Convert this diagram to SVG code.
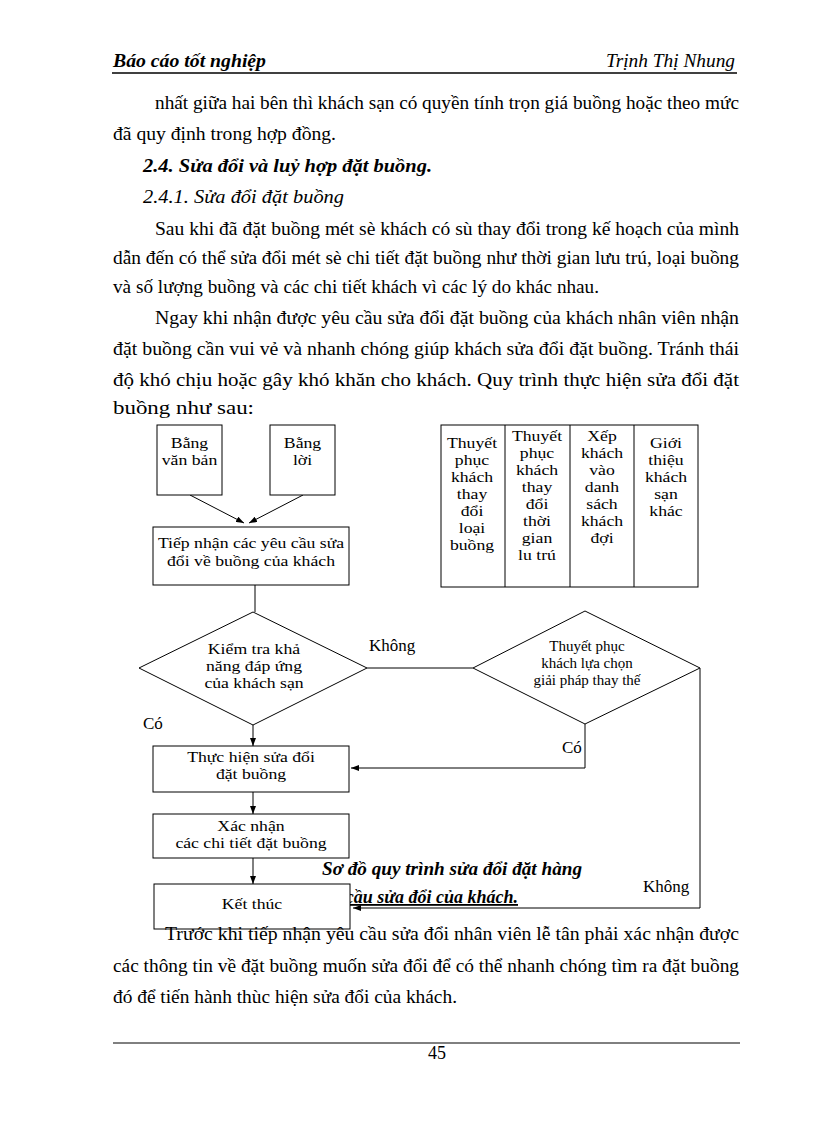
<svg xmlns="http://www.w3.org/2000/svg" width="816" height="1123" viewBox="0 0 816 1123">
<defs>
<style>
.t{font-family:"Liberation Serif","Times New Roman",serif;font-size:18px;fill:#000}
.bi{font-weight:bold;font-style:italic}
.it{font-style:italic}
.f{font-family:"Liberation Serif","Times New Roman",serif;font-size:15px;fill:#000;text-anchor:middle}
.lb{font-family:"Liberation Serif","Times New Roman",serif;font-size:17px;fill:#000}
.box{fill:#fff;stroke:#000;stroke-width:1}
.ln{fill:none;stroke:#000;stroke-width:1}
</style>
<marker id="ah" markerWidth="8" markerHeight="6" refX="8" refY="3" orient="auto" markerUnits="userSpaceOnUse">
<path d="M0,0 L8,3 L0,6 z" fill="#000"/>
</marker>
</defs>
<rect width="816" height="1123" fill="#fff"/>

<!-- header -->
<text class="t bi" x="113" y="67" textLength="153" lengthAdjust="spacingAndGlyphs">Báo cáo tốt nghiệp</text>
<text class="t it" x="606" y="67" textLength="129" lengthAdjust="spacingAndGlyphs">Trịnh Thị Nhung</text>
<line x1="112" y1="73" x2="737" y2="73" stroke="#000" stroke-width="1.5"/>

<!-- body text -->
<text class="t" x="155" y="109" textLength="584" lengthAdjust="spacingAndGlyphs">nhất giữa hai bên thì khách sạn có quyền tính trọn giá buồng hoặc theo mức</text>
<text class="t" x="113" y="140" textLength="223" lengthAdjust="spacingAndGlyphs">đã quy định trong hợp đồng.</text>
<text class="t bi" x="143" y="172" textLength="289" lengthAdjust="spacingAndGlyphs">2.4. Sửa đổi và luỷ hợp đặt buồng.</text>
<text class="t it" x="143" y="203" textLength="201" lengthAdjust="spacingAndGlyphs">2.4.1. Sửa đổi đặt buồng</text>
<text class="t" x="155" y="235" textLength="584" lengthAdjust="spacingAndGlyphs">Sau khi  đã đặt buồng mét  sè khách có sù thay đổi trong kế hoạch của mình</text>
<text class="t" x="113" y="264" textLength="626" lengthAdjust="spacingAndGlyphs">dẫn đến có thể sửa đổi mét sè chi tiết đặt buồng như thời gian lưu trú, loại buồng</text>
<text class="t" x="113" y="293" textLength="486" lengthAdjust="spacingAndGlyphs">và số lượng buồng và các chi tiết  khách vì các lý  do khác nhau.</text>
<text class="t" x="155" y="324" textLength="584" lengthAdjust="spacingAndGlyphs">Ngay khi nhận được yêu cầu sửa đổi đặt buồng của khách nhân viên nhận</text>
<text class="t" x="113" y="355" textLength="626" lengthAdjust="spacingAndGlyphs">đặt buồng cần vui vẻ và nhanh chóng giúp khách sửa đổi đặt buồng. Tránh thái</text>
<text class="t" x="113" y="386" textLength="626" lengthAdjust="spacingAndGlyphs">độ khó chịu hoặc gây khó khăn cho khách. Quy trình thực hiện sửa đổi đặt</text>
<text class="t" x="113" y="414" textLength="141" lengthAdjust="spacingAndGlyphs">buồng như sau:</text>

<!-- caption (partly covered by end box) -->
<text class="t bi" x="322" y="875" textLength="260" lengthAdjust="spacingAndGlyphs">Sơ đồ quy trình sửa đổi đặt hàng</text>
<text class="t bi" x="518" y="903" text-anchor="end" text-decoration="underline">cầu sửa đổi của khách.</text>

<!-- connectors -->
<g id="connectors">
<line class="ln" x1="190" y1="495" x2="244" y2="523" marker-end="url(#ah)"/>
<line class="ln" x1="303" y1="495" x2="249" y2="523" marker-end="url(#ah)"/>
<line class="ln" x1="255" y1="585" x2="255" y2="612"/>
<line class="ln" x1="367" y1="668" x2="473" y2="668"/>
<line class="ln" x1="253" y1="725" x2="253" y2="746" marker-end="url(#ah)"/>
<polyline class="ln" points="585,724 585,768 351,768" marker-end="url(#ah)"/>
<polyline class="ln" points="700,668 700,908 353,908" marker-end="url(#ah)"/>
<line class="ln" x1="253" y1="792" x2="253" y2="814" marker-end="url(#ah)"/>
<line class="ln" x1="253" y1="858" x2="253" y2="884" marker-end="url(#ah)"/>
<text class="lb" x="369" y="651">Không</text>
<text class="lb" x="143" y="729">Có</text>
<text class="lb" x="562" y="753">Có</text>
<text class="lb" x="643" y="892">Không</text>
</g>

<!-- nodes -->
<g id="n-vanban">
<rect class="box" x="157" y="425" width="65" height="70"/>
<g transform="translate(189.5 0) scale(1.18 1)">
<text class="f" x="0" y="448">Bằng</text>
<text class="f" x="0" y="465">văn bản</text>
</g>
</g>
<g id="n-loi">
<rect class="box" x="270" y="425" width="65" height="70"/>
<g transform="translate(302.5 0) scale(1.18 1)">
<text class="f" x="0" y="448">Bằng</text>
<text class="f" x="0" y="465">lời</text>
</g>
</g>
<g id="n-tiepnhan">
<rect class="box" x="153" y="527" width="196" height="58"/>
<g transform="translate(251 0) scale(1.18 1)">
<text class="f" x="0" y="548">Tiếp nhận các yêu cầu sửa</text>
<text class="f" x="0" y="566">đổi về buồng của khách</text>
</g>
</g>
<g id="n-kiemtra">
<polygon class="box" points="253,612 367,668 253,725 139,668"/>
<g transform="translate(254 0) scale(1.18 1)">
<text class="f" x="0" y="654">Kiểm tra khả</text>
<text class="f" x="0" y="671">năng đáp ứng</text>
<text class="f" x="0" y="688">của khách sạn</text>
</g>
</g>
<g id="n-thuyetphuc">
<polygon class="box" points="585,611 700,668 585,724 473,668"/>
<text class="f" x="587" y="651">Thuyết phục</text>
<text class="f" x="587" y="668">khách lựa chọn</text>
<text class="f" x="587" y="685">giải pháp thay thế</text>
</g>
<g id="n-thuchien">
<rect class="box" x="153" y="746" width="196" height="46"/>
<g transform="translate(251 0) scale(1.18 1)">
<text class="f" x="0" y="762">Thực hiện sửa đổi</text>
<text class="f" x="0" y="779">đặt buồng</text>
</g>
</g>
<g id="n-xacnhan">
<rect class="box" x="153" y="814" width="196" height="44"/>
<g transform="translate(251 0) scale(1.18 1)">
<text class="f" x="0" y="831">Xác nhận</text>
<text class="f" x="0" y="848">các chi tiết đặt buồng</text>
</g>
</g>
<g id="n-ketthuc">
<rect class="box" x="154" y="884" width="196" height="45"/>
<g transform="translate(252 0) scale(1.18 1)">
<text class="f" x="0" y="909" font-size="16">Kết thúc</text>
</g>
</g>

<!-- options table -->
<g id="n-options">
<rect class="box" x="441" y="425" width="257" height="162"/>
<line class="ln" x1="505" y1="425" x2="505" y2="587"/>
<line class="ln" x1="570" y1="425" x2="570" y2="587"/>
<line class="ln" x1="634" y1="425" x2="634" y2="587"/>
<g transform="translate(472 0) scale(1.18 1)">
<text class="f"><tspan x="0" y="448">Thuyết</tspan><tspan x="0" y="465">phục</tspan><tspan x="0" y="482">khách</tspan><tspan x="0" y="499">thay</tspan><tspan x="0" y="516">đổi</tspan><tspan x="0" y="533">loại</tspan><tspan x="0" y="550">buồng</tspan></text>
</g>
<g transform="translate(537 0) scale(1.18 1)">
<text class="f"><tspan x="0" y="441">Thuyết</tspan><tspan x="0" y="458">phục</tspan><tspan x="0" y="475">khách</tspan><tspan x="0" y="492">thay</tspan><tspan x="0" y="509">đổi</tspan><tspan x="0" y="526">thời</tspan><tspan x="0" y="543">gian</tspan><tspan x="0" y="560">lu    trú</tspan></text>
</g>
<g transform="translate(602 0) scale(1.18 1)">
<text class="f"><tspan x="0" y="441">Xếp</tspan><tspan x="0" y="458">khách</tspan><tspan x="0" y="475">vào</tspan><tspan x="0" y="492">danh</tspan><tspan x="0" y="509">sách</tspan><tspan x="0" y="526">khách</tspan><tspan x="0" y="543">đợi</tspan></text>
</g>
<g transform="translate(666 0) scale(1.18 1)">
<text class="f"><tspan x="0" y="448">Giới</tspan><tspan x="0" y="465">thiệu</tspan><tspan x="0" y="482">khách</tspan><tspan x="0" y="499">sạn</tspan><tspan x="0" y="516">khác</tspan></text>
</g>
</g>

<!-- text after chart -->
<text class="t" x="165" y="940" textLength="574" lengthAdjust="spacingAndGlyphs">Trước khi tiếp nhận yêu cầu sửa đổi nhân viên lễ tân phải xác nhận được</text>
<text class="t" x="113" y="972" textLength="626" lengthAdjust="spacingAndGlyphs">các thông tin về đặt buồng muốn sửa đổi để có thể nhanh  chóng tìm ra đặt buồng</text>
<text class="t" x="113" y="1003" textLength="344" lengthAdjust="spacingAndGlyphs">đó để tiến hành thùc hiện  sửa đổi của khách.</text>

<!-- footer -->
<line x1="113" y1="1043" x2="740" y2="1043" stroke="#000" stroke-width="1"/>
<text class="t" x="437" y="1059" text-anchor="middle">45</text>
</svg>
